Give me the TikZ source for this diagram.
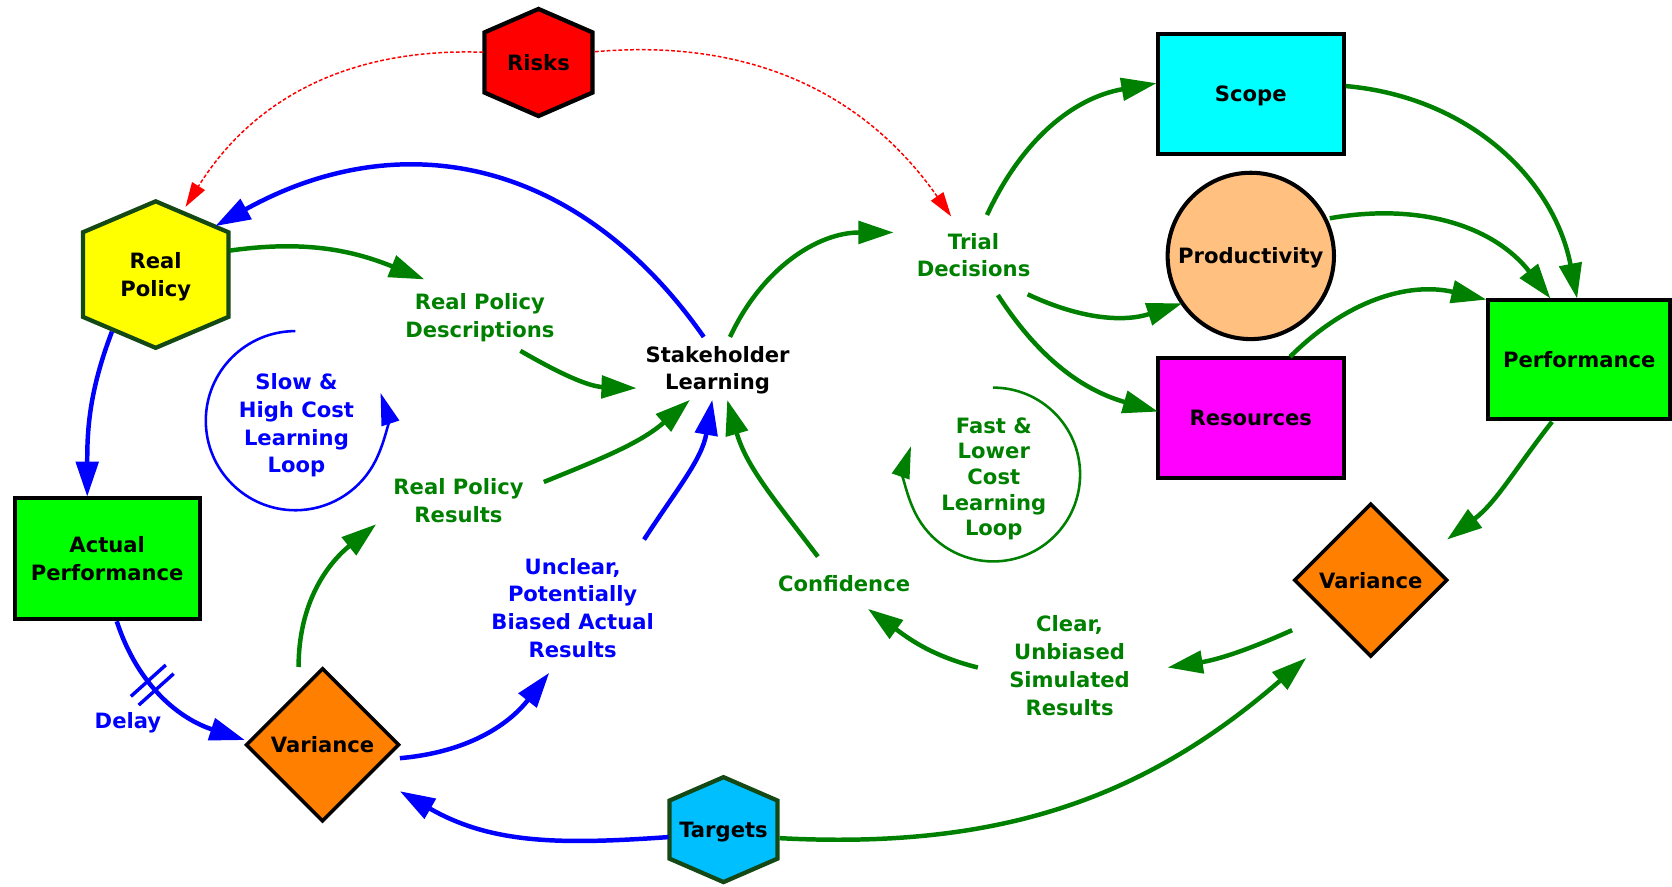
\documentclass[tikz,border=0pt]{standalone}
\usepackage{fontspec}
\setmainfont{DejaVu Sans}
\usetikzlibrary{arrows.meta,shapes.geometric,backgrounds}
\definecolor{cgreen}{RGB}{0,128,0}
\definecolor{cblue}{RGB}{0,0,255}
\definecolor{cred}{RGB}{255,0,0}
\definecolor{hexborder}{RGB}{20,72,20}
\definecolor{ctarget}{RGB}{0,191,255}
\definecolor{corange}{RGB}{255,128,0}
\definecolor{cprod}{RGB}{255,192,128}
\definecolor{cbright}{RGB}{0,255,0}
\definecolor{ccyan}{RGB}{0,255,255}
\definecolor{cmagenta}{RGB}{255,0,255}
\definecolor{cyellow}{RGB}{255,255,0}
\newcommand\myhex[4]{%
  \path[fill=#2,draw=#3,line width=4pt,line join=miter]
    (#1.north) -- ([yshift=-#4pt]#1.north east) -- ([yshift=#4pt]#1.south east)
    -- (#1.south) -- ([yshift=#4pt]#1.south west) -- ([yshift=-#4pt]#1.north west) -- cycle;}
\begin{document}
\begin{tikzpicture}[x=1pt,y=1pt,
  lbl/.style={font=\fontsize{19.8}{26}\selectfont\bfseries, align=center, inner sep=0pt, text=black, text depth=0pt},
  boxnode/.style={lbl, draw=black, line width=3.8pt, rectangle, minimum width=174.5pt, minimum height=112.5pt},
  hexnode/.style 2 args={lbl, minimum width=#1, minimum height=#2},
  dia/.style={lbl, shape=diamond, draw=black, fill=corange, line width=3.3pt, minimum width=144pt, minimum height=144pt},
  glbl/.style={lbl, text=cgreen},
  blbl/.style={lbl, text=cblue},
  garrow/.style={draw=cgreen, line width=4.2pt, -{Triangle[length=33pt,width=21pt]}},
  barrow/.style={draw=cblue, line width=4.2pt, -{Triangle[length=33pt,width=21pt]}},
  rarrow/.style={draw=cred, line width=1.4pt, dash pattern=on 3.5pt off 2pt, -{Triangle[length=23pt,width=14pt]}},
  delaymark/.pic={\draw[-, cblue, line width=3.2pt] (-5.5,-22) -- (-5.5,22) (5.5,-22) -- (5.5,22);}
]
\useasboundingbox (0,0) rectangle (1568,-831);

% ---- shape nodes ----
\node[hexnode={101pt}{100pt}] (risks) at (505,-58.6) {Risks};
\node[hexnode={136pt}{137pt}] (rp) at (146,-257.5) {Real\\Policy};
\node[hexnode={101pt}{98pt}] (targets) at (678.5,-778) {Targets};
\begin{scope}[on background layer]
  \myhex{risks}{cred}{black}{22}
  \myhex{rp}{cyellow}{hexborder}{29}
  \myhex{targets}{ctarget}{hexborder}{22}
\end{scope}

\node[boxnode, fill=cbright, minimum width=173.5pt, minimum height=113.5pt] (ap) at (100.5,-523.5) {Actual\\Performance};
\node[boxnode, fill=ccyan] (scope) at (1173,-88) {Scope};
\node[boxnode, fill=cmagenta] (res) at (1173,-392) {Resources};
\node[boxnode, fill=cbright, minimum width=170.5pt, minimum height=111.5pt] (perf) at (1481,-337) {Performance};
\node[lbl, circle, draw=black, fill=cprod, line width=3.8pt, minimum size=156pt] (prod) at (1173,-240) {Productivity};
\node[dia] (varL) at (302.5,-698.5) {Variance};
\node[dia] (varR) at (1285.5,-544) {Variance};

% ---- text nodes ----
\node[glbl] (rpd) at (450,-296) {Real Policy\\Descriptions};
\node[lbl] (stake) at (673,-345) {Stakeholder\\Learning};
\node[glbl] (trial) at (913,-239) {Trial\\Decisions};
\node[glbl] (rpr) at (430,-469.5) {Real Policy\\Results};
\node[blbl] (unclear) at (537,-570) {Unclear,\\Potentially\\Biased Actual\\Results};
\node[glbl] (conf) at (791.6,-547) {Confidence};
\node[glbl] (clear) at (1003,-624) {Clear,\\Unbiased\\Simulated\\Results};
\node[blbl] (slowtxt) at (278,-397) {Slow \&\\High Cost\\Learning\\Loop};
\node[glbl, font=\fontsize{19.8}{24}\selectfont\bfseries] (fasttxt) at (932,-447) {Fast \&\\Lower\\Cost\\Learning\\Loop};
\node[blbl] (delay) at (120,-676) {Delay};

% ---- loops ----
\coordinate (slowc) at (277,-394.5);
\coordinate (fastc) at (931.4,-445);
\draw[cblue, line width=2.4pt, -{Triangle[length=30pt,width=17pt]}]
  ([shift={(90:84)}]slowc) arc[start angle=90, end angle=378, radius=84];
\draw[cgreen, line width=2.4pt, -{Triangle[length=30pt,width=17pt]}]
  ([shift={(90:81.5)}]fastc) arc[start angle=90, end angle=-199, radius=81.5];

% ---- red dashed ----
\draw[rarrow] ([shift={(-52,9.6)}]risks.center) to[out=178,in=58] ([shift={(28,63.5)}]rp.center);
\draw[rarrow] ([shift={(53,10.1)}]risks.center) to[out=5,in=125] ([shift={(-21,36)}]trial.center);

% ---- blue connectors ----
\draw[barrow] ([shift={(-13,29)}]stake.center) to[out=125,in=29,looseness=1.1] ([shift={(56,45.5)}]rp.center);
\draw[barrow] ([shift={(-41,-53.5)}]rp.center) to[out=249,in=90] ([shift={(-18.7,57.7)}]ap.center);
\draw[barrow] ([shift={(9,-59.1)}]ap.center) to[out=-72,in=162]
  pic[pos=0.4, sloped]{delaymark} ([shift={(-72.9,4.5)}]varL.center);
\draw[barrow] ([shift={(72.5,-12.5)}]varL.center) to[out=5,in=-128] ([shift={(-22,-61)}]unclear.center);
\draw[barrow] ([shift={(67,64)}]unclear.center) to[out=57,in=-100] ([shift={(-5,-30)}]stake.center);
\draw[barrow] ([shift={(-51.5,-7)}]targets.center) to[out=184,in=-30] ([shift={(72.5,-43.5)}]varL.center);

% ---- green connectors ----
\draw[garrow] ([shift={(69.5,22.5)}]rp.center) to[out=8,in=158] ([shift={(-52,34)}]rpd.center);
\draw[garrow] ([shift={(38,-33)}]rpd.center) to[out=-30,in=178] ([shift={(-76,-19)}]stake.center);
\draw[garrow] ([shift={(11.6,29)}]stake.center) to[out=65,in=180] ([shift={(-75,21)}]trial.center);
\draw[garrow] ([shift={(12.6,37.4)}]trial.center) to[out=65,in=190] ([shift={(-88.4,10)}]scope.center);
\draw[garrow] ([shift={(50.7,-37)}]trial.center) to[out=-25,in=198] ([shift={(-64.5,-44.5)}]prod.center);
\draw[garrow] ([shift={(22.8,-37.7)}]trial.center) to[out=-57,in=164] ([shift={(-87,6)}]res.center);
\draw[garrow] ([shift={(89,7.3)}]scope.center) to[out=-5,in=101] ([shift={(-2,57)}]perf.center);
\draw[garrow] ([shift={(74,35.3)}]prod.center) to[out=10,in=128] ([shift={(-27,57)}]perf.center);
\draw[garrow] ([shift={(36.8,57.4)}]res.center) to[out=45,in=167] ([shift={(-87,56)}]perf.center);
\draw[garrow] ([shift={(-25.5,-58.5)}]perf.center) to[out=232,in=37] ([shift={(71.5,38)}]varR.center);
\draw[garrow] ([shift={(-73.8,-47)}]varR.center) to[out=204,in=9] ([shift={(92,-2)}]clear.center);
\draw[garrow] ([shift={(-86,-2)}]clear.center) to[out=166,in=-36] ([shift={(22.4,-24)}]conf.center);
\draw[garrow] ([shift={(-24.6,25)}]conf.center) to[out=127,in=-74] ([shift={(9,-30)}]stake.center);
\draw[garrow] ([shift={(80,17.5)}]rpr.center) to[out=22,in=-139] ([shift={(-26,-30)}]stake.center);
\draw[garrow] ([shift={(-22.5,73)}]varL.center) to[out=90,in=-141] ([shift={(-77.2,-22.1)}]rpr.center);
\draw[garrow] ([shift={(52.5,-8)}]targets.center) to[out=-3,in=-139] ([shift={(-60.5,-73)}]varR.center);
\end{tikzpicture}
\end{document}
